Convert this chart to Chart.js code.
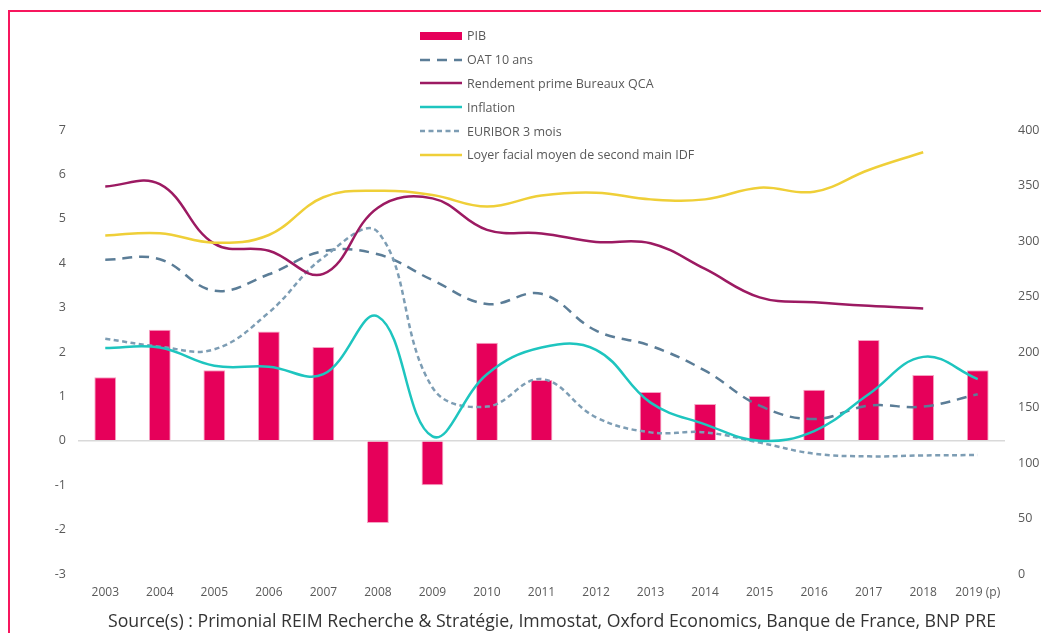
<!DOCTYPE html>
<html>
<head>
<meta charset="utf-8">
<script src="https://cdn.jsdelivr.net/npm/chart.js@4/dist/chart.umd.min.js"></script>
<style>
  html, body { margin: 0; padding: 0; background: #fff; }
  body { width: 1041px; height: 633px; position: relative; overflow: hidden; font-family: "Open Sans", sans-serif; }
  #frame { position: absolute; left: 8px; top: 10px; width: 1100px; height: 700px; border-top: 2px solid #f7175e; border-left: 2px solid #f7175e; }
  #wrap { position: absolute; left: 0; top: 0; width: 1041px; height: 633px; }
  #legend { position: absolute; left: 420px; top: 24px; }
  #legend .row { height: 23.8px; display: flex; align-items: center; font-size: 12.5px; color: #595959; }
  #legend svg { width: 44px; height: 12px; margin-right: 3px; }
  #source { position: absolute; left: 0; width: 1104px; top: 608px; text-align: center; font-size: 17.7px; color: #333; }
</style>
</head>
<body>
<div id="frame"></div>
<div id="wrap"><canvas id="chart"></canvas></div>
<div id="legend"></div>
<div id="source">Source(s) : Primonial REIM Recherche &amp; Stratégie, Immostat, Oxford Economics, Banque de France, BNP PRE</div>
<script>
document.addEventListener("DOMContentLoaded", () => {

    const years = ["2003", "2004", "2005", "2006", "2007", "2008", "2009", "2010", "2011",
                   "2012", "2013", "2014", "2015", "2016", "2017", "2018", "2019 (p)"];

    const pib = [1.43, 2.5, 1.59, 2.46, 2.11, -1.85, -1.0, 2.21, 1.37, null, 1.1, 0.83, 1.01, 1.15, 2.27, 1.48, 1.59];
    const oat = [4.08, 4.09, 3.38, 3.75, 4.27, 4.2, 3.62, 3.08, 3.31, 2.48, 2.14, 1.58, 0.79, 0.49, 0.79, 0.77, 1.05];
    const rendement = [5.73, 5.78, 4.44, 4.28, 3.76, 5.25, 5.46, 4.75, 4.67, 4.48, 4.45, 3.87, 3.23, 3.12, 3.04, 2.98, null];
    const inflation = [2.09, 2.1, 1.69, 1.67, 1.5, 2.8, 0.1, 1.5, 2.1, 2.05, 0.86, 0.37, 0.0, 0.22, 1.05, 1.89, 1.39];
    const euribor = [2.3, 2.12, 2.06, 2.89, 4.13, 4.7, 1.2, 0.77, 1.39, 0.53, 0.19, 0.19, -0.04, -0.29, -0.35, -0.33, -0.32];
    const loyer = [305, 307, 298.5, 305.4, 339.4, 345.3, 341.4, 331, 341, 343.5, 337.5, 337.5, 348, 344.4, 364, 380, null];

    const pink = "#e6005a";
    const tickColor = "#595959";
    const tickFont = { family: "Open Sans", size: 12.5 };

    function lineSet(label, data, color, dash, axis, order) {
        return {
            type: "line",
            label: label,
            data: data,
            borderColor: color,
            backgroundColor: color,
            borderWidth: 2.5,
            borderDash: dash,
            pointRadius: 0,
            tension: 0.4,
            fill: false,
            spanGaps: false,
            yAxisID: axis,
            order: order
        };
    }

    const datasets = [
        {
            type: "bar",
            label: "PIB",
            data: pib,
            backgroundColor: pink,
            borderColor: "#f6a3c3",
            borderWidth: 1,
            categoryPercentage: 0.8,
            barPercentage: 0.5,
            yAxisID: "y",
            order: 10
        },
        lineSet("OAT 10 ans", oat, "#5b7d97", [10, 7], "y", 5),
        lineSet("Rendement prime Bureaux QCA", rendement, "#9c1a62", [], "y", 3),
        lineSet("Inflation", inflation, "#1ec5bf", [], "y", 2),
        lineSet("EURIBOR 3 mois", euribor, "#7d9db4", [5, 3.5], "y", 4),
        lineSet("Loyer facial moyen de second main IDF", loyer, "#efcf38", [], "y2", 1)
    ];

    new Chart(document.getElementById("chart"), {
        data: { labels: years, datasets: datasets },
        options: {
            responsive: true,
            maintainAspectRatio: false,
            animation: false,
            layout: { padding: { top: 130, left: 0, right: 0, bottom: 0 } },
            plugins: { legend: { display: false }, tooltip: { enabled: false } },
            scales: {
                x: {
                    grid: { display: false, drawTicks: false },
                    border: { display: false },
                    ticks: { color: tickColor, font: { family: "Open Sans", size: 12 }, padding: 11, maxRotation: 0, autoSkip: false },
                    afterFit: (s) => { s.height = 59; }
                },
                y: {
                    position: "left",
                    min: -3,
                    max: 7,
                    ticks: { stepSize: 1, color: tickColor, font: tickFont, padding: 12 },
                    grid: {
                        drawTicks: false,
                        color: (c) => c.tick && c.tick.value === 0 ? "#d9d9d9" : "rgba(0,0,0,0)",
                        lineWidth: 1.5
                    },
                    border: { display: false },
                    afterFit: (s) => { s.width = 78; }
                },
                y2: {
                    position: "right",
                    min: 0,
                    max: 400,
                    ticks: { stepSize: 50, color: tickColor, font: tickFont, padding: 13 },
                    grid: { display: false, drawTicks: false },
                    border: { display: false },
                    afterFit: (s) => { s.width = 36; }
                }
            }
        }
    });

    // legend drawn as html, in the same order as the datasets
    const legend = document.getElementById("legend");
    datasets.forEach((d) => {
        const row = document.createElement("div");
        row.className = "row";
        let swatch;
        if (d.type === "bar") {
            swatch = `<svg viewBox="0 0 44 12"><rect x="0" y="2" width="42" height="8" fill="${d.backgroundColor}"/></svg>`;
        } else {
            const dash = d.borderDash.length ? d.borderDash.join(",") : "none";
            swatch = `<svg viewBox="0 0 44 12"><line x1="0" y1="6" x2="42" y2="6" stroke="${d.borderColor}" stroke-width="2.5" stroke-dasharray="${dash}"/></svg>`;
        }
        row.innerHTML = swatch + `<span>${d.label}</span>`;
        legend.appendChild(row);
    });
});
</script>
</body>
</html>
